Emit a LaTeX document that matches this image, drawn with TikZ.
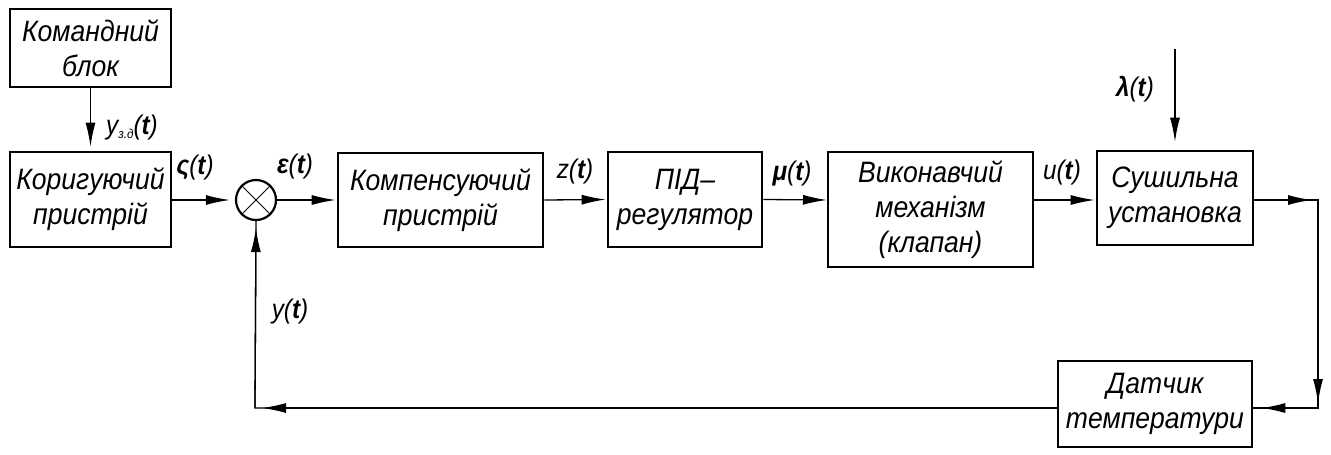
\documentclass[tikz,border=0pt]{standalone}
\usepackage{fontspec}
\setmainfont{Liberation Sans}[FakeStretch=0.9]
\usetikzlibrary{arrows.meta,calc}

\begin{document}
\begin{tikzpicture}[x=1pt,y=-1pt,
  blk/.style={draw,line width=2.6pt,rectangle,inner sep=0pt,align=center,
    font=\fontsize{29.5}{35}\selectfont\itshape},
  sig/.style={line width=1.3pt},
  arr/.style={line width=1.3pt,-{Latex[length=24pt,width=10pt]}},
  lbl/.style={font=\fontsize{27}{30}\selectfont\itshape,inner sep=0pt}]

% page frame
\fill[white] (0,0) rectangle (1331,455);
\useasboundingbox (0,0) rectangle (1331,455);

% blocks
\node[blk,minimum width=161pt,minimum height=78pt] (cmd) at (90.5,48) {Командний\\блок};
\node[blk,minimum width=161pt,minimum height=95pt] (kor) at (90.5,199.5) {Коригуючий\\пристрій};
\node[draw,circle,line width=2.2pt,minimum size=40pt,inner sep=0pt] (sum) at (256,200) {};
\draw[line width=1pt] (sum.north east) -- (sum.south west) (sum.north west) -- (sum.south east);
\node[blk,minimum width=205pt,minimum height=94pt] (komp) at (440.5,200) {Компенсуючий\\пристрій};
\node[blk,minimum width=154pt,minimum height=95pt] (pid) at (685,199.5) {ПІД–\\регулятор};
\node[blk,minimum width=205pt,minimum height=115pt] (vyk) at (930.5,209.5) {Виконавчий\\механізм\\(клапан)};
\node[blk,minimum width=156pt,minimum height=94pt] (sush) at (1175,198) {Сушильна\\установка};
\node[blk,minimum width=194pt,minimum height=86pt] (dat) at (1155,404) {Датчик\\температури};

% bends and free ends
\coordinate (lamtop) at (1175,49);
\coordinate (c1) at (1318,200);
\coordinate (c2) at (1318,408);
\coordinate (c3) at (255,408);
\coordinate (vin) at (828,200);
\coordinate (vout) at (1033,200);

% forward path
\draw[arr,shorten >=4pt] (cmd.south) -- (kor.north);
\draw[arr,shorten >=5pt] (kor.east |- sum.west) -- (sum.west);
\draw[arr,shorten >=1pt] (sum.east) -- (komp.west);
\draw[arr,shorten >=1pt] (komp.east) -- (pid.west);
\draw[arr,shorten >=1pt] (pid.east) -- (vin);
\draw[arr,shorten >=1pt] (vout) -- (sush.west |- vout);
\draw[arr,shorten >=8pt] (lamtop) -- (sush.north);

% feedback path
\draw[sig] (sush.east |- c1) -- (c1) -- (c2) -- (dat.east |- c2);
\draw[arr,shorten >=6pt] (sush.east |- c1) -- (c1);
\draw[arr,shorten >=5pt] (c1) -- (c2);
\draw[arr,shorten >=8pt] (c2) -- (dat.east |- c2);
\draw[sig] (dat.west |- c3) -- (c3) -- (sum.south);
\draw[arr,shorten >=7pt] (dat.west |- c3) -- (c3);
\draw[arr,shorten >=7pt] (c3) -- (sum.south);

% signal labels
\node[lbl] (lyzd) at (132,128) {y\raisebox{-4pt}{\fontsize{13}{13}\selectfont з.д}(\textbf{t})};
\node[lbl] (lsig) at (195,168) {\textbf{ς}(\textbf{t})};
\node[lbl] (leps) at (295,167) {\textbf{ε}(\textbf{t})};
\node[lbl] (lz) at (575,172) {z(\textbf{t})};
\node[lbl] (lmu) at (792,174) {\textbf{μ}(\textbf{t})};
\node[lbl] (lu) at (1062,173) {u(\textbf{t})};
\node[lbl] (llam) at (1135,89) {\textbf{λ}(\textbf{t})};
\node[lbl] (ly) at (290,312) {y(\textbf{t})};
\end{tikzpicture}
\end{document}
